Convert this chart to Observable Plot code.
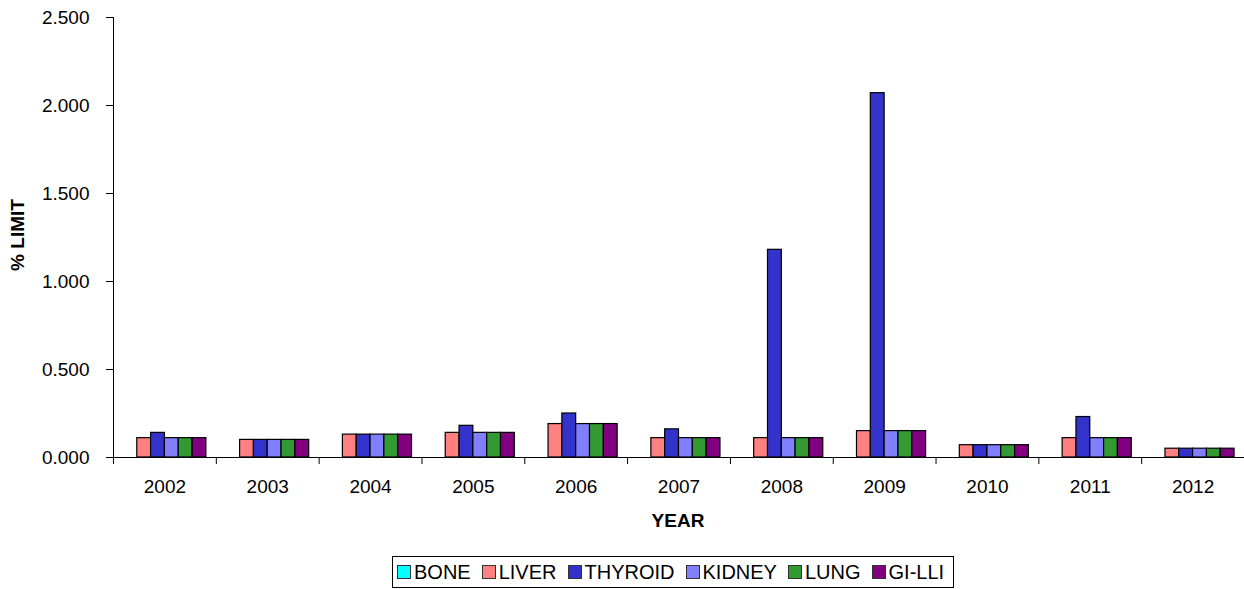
<!DOCTYPE html>
<html>
<head>
<meta charset="utf-8">
<script src="https://cdn.jsdelivr.net/npm/d3@7"></script>
<script src="https://cdn.jsdelivr.net/npm/@observablehq/plot@0.6"></script>
<style>
  body { margin: 0; background: #fff; font-family: Arial, "Liberation Sans", sans-serif; }
  #wrap { position: relative; width: 1244px; height: 589px; }
  .ttl { position: absolute; font-weight: bold; font-size: 19px; line-height: 1; color: #000; white-space: nowrap; }
  #legend { position: absolute; left: 392px; top: 556px; height: 30px; border: 1px solid #000;
            display: flex; align-items: center; padding: 0 9px 0 4px; font-size: 20px; color: #000; }
  .item { display: flex; align-items: center; margin-right: 11px; }
  .item:last-child { margin-right: 0; }
  .sw { width: 12px; height: 12px; border: 1px solid #333; margin-right: 3px; }
</style>
</head>
<body>
<div id="wrap">
  <div id="chart"></div>
  <div class="ttl" style="left:17px; top:235px; transform: translate(-50%,-50%) rotate(-90deg);">% LIMIT</div>
  <div class="ttl" style="left:678px; top:520px; transform: translate(-50%,-50%);">YEAR</div>
  <div id="legend"></div>
</div>
<script>
const years = ["2002","2003","2004","2005","2006","2007","2008","2009","2010","2011","2012"];
const organs = ["BONE","LIVER","THYROID","KIDNEY","LUNG","GI-LLI"];
const colors = ["#00FFFF","#FF8080","#3333CC","#8080FF","#339933","#800080"];
const yTicks = [0, 0.5, 1, 1.5, 2, 2.5];

const bone    = [0, 0, 0, 0, 0, 0, 0, 0, 0, 0, 0];
const liver   = [0.11, 0.10, 0.13, 0.14, 0.19, 0.11, 0.11, 0.15, 0.07, 0.11, 0.05];
const thyroid = [0.14, 0.10, 0.13, 0.18, 0.25, 0.16, 1.18, 2.07, 0.07, 0.23, 0.05];
const kidney  = [0.11, 0.10, 0.13, 0.14, 0.19, 0.11, 0.11, 0.15, 0.07, 0.11, 0.05];
const lung    = [0.11, 0.10, 0.13, 0.14, 0.19, 0.11, 0.11, 0.15, 0.07, 0.11, 0.05];
const gilli   = [0.11, 0.10, 0.13, 0.14, 0.19, 0.11, 0.11, 0.15, 0.07, 0.11, 0.05];

const series = [bone, liver, thyroid, kidney, lung, gilli];
const data = [];
years.forEach((yr, i) => organs.forEach((o, j) => data.push({year: yr, organ: o, value: series[j][i]})));

const chart = Plot.plot({
  width: 1244,
  height: 545,
  marginLeft: 113,
  marginRight: 0,
  marginTop: 17,
  marginBottom: 88,
  style: {fontFamily: "Arial, 'Liberation Sans', sans-serif", fontSize: "19px", color: "#000", background: "#fff", overflow: "visible"},
  fx: {domain: years, padding: 0, round: false, axis: "bottom", tickSize: 0, tickPadding: 22, label: null},
  x: {domain: organs, paddingInner: 0, paddingOuter: 0.72, round: false, axis: null},
  y: {domain: [0, 2.5], ticks: yTicks, tickFormat: d3.format(".3f"), tickSize: 7, tickPadding: 17, line: true, label: null},
  color: {domain: organs, range: colors},
  marks: [
    Plot.barY(data.filter(d => d.value > 0), {fx: "year", x: "organ", y: "value", fill: "organ", stroke: "#000", strokeWidth: 1.2}),
    Plot.ruleY([0], {stroke: "#000"}),
    Plot.frame({anchor: "left", insetTop: 440, insetBottom: -6, stroke: "#000"})
  ]
});
document.getElementById("chart").appendChild(chart);

const legend = document.getElementById("legend");
organs.forEach((o, j) => {
  const it = document.createElement("div");
  it.className = "item";
  const sw = document.createElement("div");
  sw.className = "sw";
  sw.style.background = colors[j];
  const tx = document.createElement("span");
  tx.textContent = o;
  it.appendChild(sw);
  it.appendChild(tx);
  legend.appendChild(it);
});
</script>
</body>
</html>
